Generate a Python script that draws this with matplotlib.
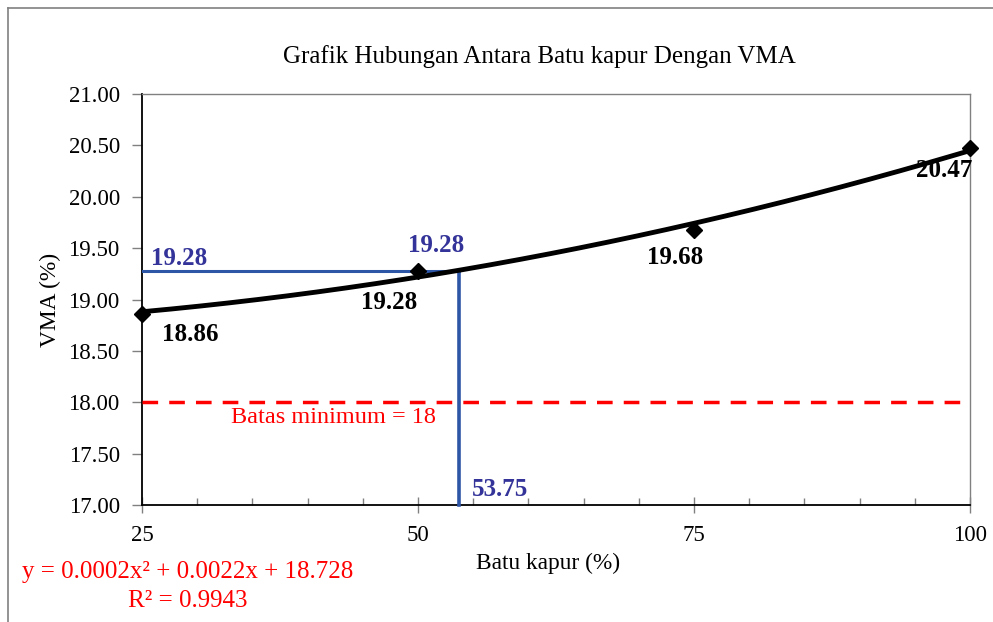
import numpy as np
import matplotlib
matplotlib.use("Agg")
import matplotlib.pyplot as plt
from matplotlib.lines import Line2D

plt.rcParams['font.family'] = ['Liberation Serif', 'DejaVu Serif']

# Data
batu_kapur = [25, 50, 75, 100]
vma = [18.86, 19.28, 19.68, 20.47]
vma_labels = ["18.86", "19.28", "19.68", "20.47"]
batas_minimum = 18
target_x = 53.75
target_y = 19.28
equation_text = "y = 0.0002x\u00b2 + 0.0022x + 18.728"
r2_text = "R\u00b2 = 0.9943"

fig = plt.figure(figsize=(9.93, 6.22), dpi=100)
ax = fig.add_axes([142/993, 1-505/622, 828/993, 411/622])

# Outer chart frame (top and left edges)
fig.add_artist(Line2D([8/993, 1.0], [1-8/622, 1-8/622], transform=fig.transFigure, color='#808080', lw=1.2))
fig.add_artist(Line2D([8/993, 8/993], [0.0, 1-8/622], transform=fig.transFigure, color='#808080', lw=1.2))

# Second-order trend line
coef = np.polyfit(batu_kapur, vma, 2)
xs = np.linspace(25, 100, 200)
ax.plot(xs, np.polyval(coef, xs), color='black', lw=3.5, zorder=4, solid_capstyle='round')

# Data points
ax.plot(batu_kapur, vma, linestyle='none', marker='D', markersize=8, color='black', zorder=5, clip_on=False)

# Minimum limit
ax.axhline(batas_minimum, color='#FF0000', lw=2.5, linestyle=(0, (4.5, 3.2)), zorder=3)
ax.annotate("Batas minimum = 18", xy=(40, batas_minimum), xytext=(18.5, -11), textcoords='offset points',
            ha='center', va='center', color='#FF0000', fontsize=17.5)

# Reading lines for the target VMA
blue = '#2E56A6'
ax.plot([25, target_x], [target_y, target_y], color=blue, lw=2.2, zorder=3)
ax.plot([target_x, target_x], [target_y, 17], color=blue, lw=2.6, zorder=3, clip_on=False)

text_blue = '#333399'
ax.annotate("19.28", xy=(25, target_y), xytext=(27, 9), textcoords='offset points',
            ha='center', va='center', color=text_blue, fontsize=18, fontweight='bold')
ax.annotate("19.28", xy=(50, vma[1]), xytext=(13, 18), textcoords='offset points',
            ha='center', va='center', color=text_blue, fontsize=18, fontweight='bold')
ax.annotate("53.75", xy=(target_x, 17), xytext=(29.5, 11.5), textcoords='offset points',
            ha='center', va='center', color=text_blue, fontsize=18, fontweight='bold')

# Data labels
offsets = [(34.6, -14.5), (-21, -23), (-13.7, -20), (-18.7, -16)]
for x, y, lab, off in zip(batu_kapur, vma, vma_labels, offsets):
    ax.annotate(lab, xy=(x, y), xytext=off, textcoords='offset points',
                ha='center', va='center', color='black', fontsize=18, fontweight='bold', zorder=6)

# Axes
ax.set_xlim(25, 100)
ax.set_ylim(17, 21)
ax.set_xticks([25, 50, 75, 100])
ax.set_xticks(np.arange(30, 100, 5), minor=True)
ax.set_yticks(np.arange(17, 21.01, 0.5))
ax.set_yticklabels([f"{v:.2f}" for v in np.arange(17, 21.01, 0.5)])
ax.tick_params(axis='y', direction='out', length=7, width=1, color='#808080', labelsize=16.5, pad=9)
ax.tick_params(axis='x', which='major', direction='inout', length=11, width=1, color='#808080', labelsize=16.5, pad=9)
ax.tick_params(axis='x', which='minor', direction='in', length=5, width=1, color='#808080')

for side in ['top', 'right']:
    ax.spines[side].set_color('#808080')
    ax.spines[side].set_linewidth(1)
for side in ['left', 'bottom']:
    ax.spines[side].set_color('black')
    ax.spines[side].set_linewidth(1.3)

ax.set_xlabel("Batu kapur (%)", fontsize=16.8)
ax.xaxis.set_label_coords((548 - 142) / 828, (505 - 563) / 411)
ax.xaxis.label.set_va('center')
ax.set_ylabel("VMA (%)", fontsize=16.8)
ax.yaxis.set_label_coords((50 - 142) / 828, 0.5)
ax.yaxis.label.set_va('center')

# Title
fig.text(539/993, 1-57/622, "Grafik Hubungan Antara Batu kapur Dengan VMA", fontsize=18, ha='center', va='center')

# Trend line equation
fig.text(188/993, 1-572/622, equation_text, color='#FF0000', fontsize=18, ha='center', va='center')
fig.text(188/993, 1-601/622, r2_text, color='#FF0000', fontsize=18, ha='center', va='center')

fig.savefig("out.png", dpi=100)
